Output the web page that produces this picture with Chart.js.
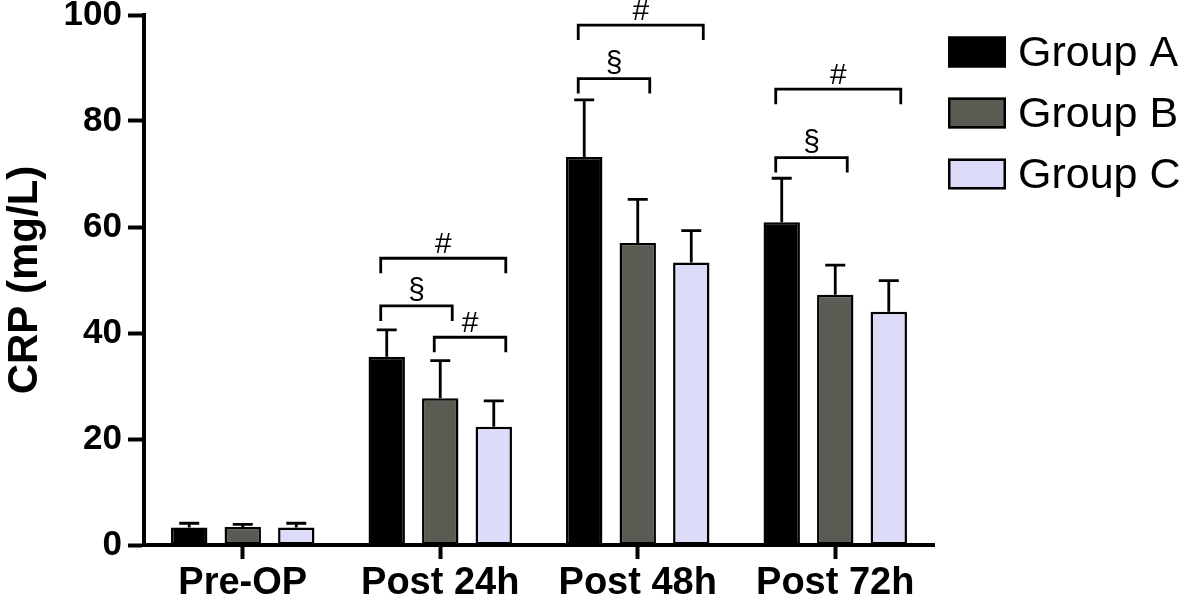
<!DOCTYPE html>
<html>
<head>
<meta charset="utf-8">
<script src="https://cdn.jsdelivr.net/npm/chart.js@4/dist/chart.umd.min.js"></script>
<style>
  body { margin: 0; background: #fff; }
  #wrap { width: 1181px; height: 601px; }
</style>
</head>
<body>
<div id="wrap"><canvas id="crpChart" width="1181" height="601"></canvas></div>
<script>
// Data
const categories = ['Pre-OP', 'Post 24h', 'Post 48h', 'Post 72h'];
const groupA = [3.3, 35.5, 73.2, 60.9];
const groupB = [3.4, 27.7, 57.0, 47.2];
const groupC = [3.3, 22.3, 53.3, 44.0];
const sdA = [0.8, 5.1, 10.8, 8.3];
const sdB = [0.5, 7.1, 8.2, 5.6];
const sdC = [0.8, 4.9, 6.0, 5.9];
const yTicks = [0, 20, 40, 60, 80, 100];

// significance brackets: [category, from group, to group, level (mg/L), symbol]
const comparisons = [
    [1, 0, 2, 54.1, '#'],
    [1, 0, 1, 45.1, '§'],
    [1, 1, 2, 39.2, '#'],
    [2, 0, 2, 98.1, '#'],
    [2, 0, 1, 88.0, '§'],
    [3, 0, 2, 86.0, '#'],
    [3, 0, 1, 73.1, '§']
];

const FONT = "'Liberation Sans', Arial, sans-serif";
const sds = [sdA, sdB, sdC];

// Error bars (upper only)
const errorBars = {
    id: 'errorBars',
    afterDatasetsDraw(chart) {
        const ctx = chart.ctx;
        const y = chart.scales.y;
        ctx.save();
        ctx.strokeStyle = '#000';
        ctx.lineWidth = 2.8;
        chart.data.datasets.forEach((ds, i) => {
            chart.getDatasetMeta(i).data.forEach((bar, j) => {
                const top = y.getPixelForValue(ds.data[j] + sds[i][j]);
                ctx.beginPath();
                ctx.moveTo(bar.x, bar.y);
                ctx.lineTo(bar.x, top);
                ctx.moveTo(bar.x - 10, top);
                ctx.lineTo(bar.x + 10, top);
                ctx.stroke();
            });
        });
        ctx.restore();
    }
};

// Significance brackets
const brackets = {
    id: 'brackets',
    afterDatasetsDraw(chart) {
        const ctx = chart.ctx;
        const y = chart.scales.y;
        ctx.save();
        ctx.strokeStyle = '#000';
        ctx.fillStyle = '#000';
        ctx.lineWidth = 2.8;
        ctx.font = '30px ' + FONT;
        ctx.textAlign = 'center';
        ctx.textBaseline = 'alphabetic';
        comparisons.forEach(([cat, g1, g2, level, sym]) => {
            const x1 = chart.getDatasetMeta(g1).data[cat].x - 6;
            const x2 = chart.getDatasetMeta(g2).data[cat].x + 12;
            const yy = y.getPixelForValue(level);
            ctx.beginPath();
            ctx.moveTo(x1, yy + 15);
            ctx.lineTo(x1, yy);
            ctx.lineTo(x2, yy);
            ctx.lineTo(x2, yy + 15);
            ctx.stroke();
            ctx.fillText(sym, (x1 + x2) / 2, yy - (sym === '§' ? 7 : 5));
        });
        ctx.restore();
    }
};

// Legend on the right
const sideLegend = {
    id: 'sideLegend',
    afterDraw(chart) {
        const ctx = chart.ctx;
        const left = chart.chartArea.right + 14;
        ctx.save();
        ctx.font = '43px ' + FONT;
        ctx.textBaseline = 'middle';
        ctx.textAlign = 'left';
        chart.data.datasets.forEach((ds, i) => {
            const cy = 52 + i * 61;
            ctx.fillStyle = ds.backgroundColor;
            ctx.fillRect(left, cy - 15.5, 58, 31);
            ctx.strokeStyle = '#000';
            ctx.lineWidth = 2.5;
            ctx.strokeRect(left + 1.25, cy - 14.25, 55.5, 28.5);
            ctx.fillStyle = '#000';
            ctx.fillText(ds.label, left + 70, cy + 2);
        });
        ctx.restore();
    }
};

const ctx = document.getElementById('crpChart').getContext('2d');
const crpChart = new Chart(ctx, {
    type: 'bar',
    data: {
        labels: categories,
        datasets: [
            { label: 'Group A', data: groupA, backgroundColor: '#000000' },
            { label: 'Group B', data: groupB, backgroundColor: '#5a5b53' },
            { label: 'Group C', data: groupC, backgroundColor: '#dcdcf8' }
        ].map(d => Object.assign(d, {
            borderColor: '#000',
            borderWidth: 2.5,
            borderSkipped: false,
            categoryPercentage: 0.813,
            barPercentage: 0.68
        }))
    },
    options: {
        responsive: false,
        animation: false,
        devicePixelRatio: 1,
        layout: { padding: { left: 0, top: 15, right: 247, bottom: 0 } },
        plugins: {
            legend: { display: false },
            tooltip: { enabled: false }
        },
        scales: {
            x: {
                offset: true,
                z: 1,
                grid: {
                    offset: false,
                    drawOnChartArea: false,
                    tickLength: 14,
                    tickWidth: 4,
                    color: '#000'
                },
                border: { display: true, width: 4, color: '#000' },
                ticks: {
                    color: '#000',
                    padding: 2,
                    font: { family: FONT, size: 38, weight: 'bold' }
                },
                afterFit: s => {
                    s.height = 56;
                    s.paddingLeft = 0;
                    s.paddingRight = 0;
                }
            },
            y: {
                min: 0,
                max: 100,
                z: 1,
                afterBuildTicks: s => { s.ticks = yTicks.map(v => ({ value: v })); },
                grid: {
                    drawOnChartArea: false,
                    tickLength: 16,
                    tickWidth: 4,
                    color: '#000'
                },
                border: { display: true, width: 4, color: '#000' },
                ticks: {
                    color: '#000',
                    padding: 6,
                    font: { family: FONT, size: 35, weight: 'bold' }
                },
                title: {
                    display: true,
                    text: 'CRP (mg/L)',
                    color: '#000',
                    padding: 0,
                    font: { family: FONT, size: 42, weight: 'bold' }
                },
                afterFit: s => {
                    s.width = 144;
                    s.paddingTop = 0;
                    s.paddingBottom = 0;
                }
            }
        }
    },
    plugins: [errorBars, brackets, sideLegend]
});
</script>
</body>
</html>
